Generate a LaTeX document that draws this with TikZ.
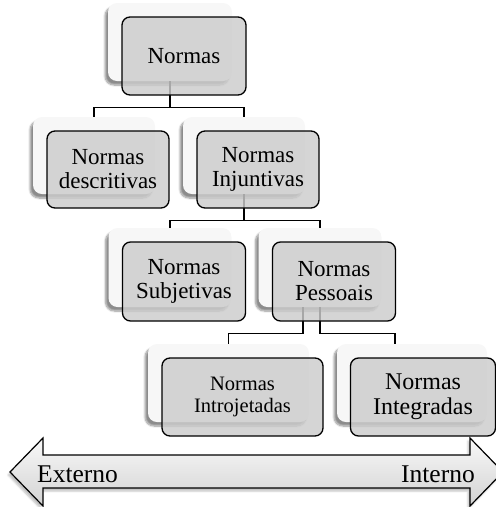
\documentclass[tikz,border=0pt]{standalone}
\usepackage{fontspec}
\setmainfont{Liberation Serif}
\usetikzlibrary{shadows.blur}
\definecolor{boxgray}{RGB}{204,204,204}
\begin{document}
\begin{tikzpicture}[x=1pt,y=-1pt,
  backbox/.style={rectangle, rounded corners=9pt, fill=gray!6, draw=none,
    blur shadow={shadow xshift=-3pt, shadow yshift=-4pt, shadow opacity=45, shadow blur steps=8},
    inner sep=0pt},
  frontbox/.style={rectangle, rounded corners=8pt, draw=black, line width=1.3pt,
    fill=boxgray, fill opacity=0.82, text opacity=1, align=center, inner sep=2pt,
    font=\fontsize{23}{24}\selectfont},
  link/.style={draw=black, line width=1.3pt},
  arrowtext/.style={font=\fontsize{25.5}{26}\selectfont, inner sep=0pt}
]
\useasboundingbox (0,0) rectangle (496,507);

% background cards of the hierarchy
\node[backbox, minimum width=124pt, minimum height=78pt] (nb) at (170,42) {};
\node[backbox, minimum width=122pt, minimum height=77pt] (db) at (94,155.5) {};
\node[backbox, minimum width=122pt, minimum height=77pt] (ib) at (244,155.5) {};
\node[backbox, minimum width=123pt, minimum height=79pt] (sb) at (170,267.5) {};
\node[backbox, minimum width=123pt, minimum height=79pt] (pb) at (320,267.5) {};
\node[backbox, minimum width=161pt, minimum height=78pt] (tb) at (228.5,383) {};
\node[backbox, minimum width=150pt, minimum height=78pt] (gb) at (412,383) {};

% tree connectors
\draw[link] (nb.south) -- ++(0,26) coordinate (j1);
\draw[link] (db.north) |- (j1) -| (ib.north);
\draw[link] (ib.south) -- ++(0,26) coordinate (j2);
\draw[link] (sb.north) |- (j2) -| (pb.north);
\draw[link] ([xshift=-17pt]pb.south) -- ++(0,26) -| (tb.north);
\draw[link] (pb.south) -- ++(0,26) -| ([xshift=-17pt]gb.north);

% front cards
\node[frontbox, minimum width=124pt, minimum height=78pt] (nf) at (184,56) {Normas};
\node[frontbox, minimum width=122pt, minimum height=77pt] (df) at (108,169.5) {Normas\\descritivas};
\node[frontbox, minimum width=122pt, minimum height=77pt] (jf) at (258,169.5) {Normas\\Injuntivas};
\node[frontbox, minimum width=123pt, minimum height=79pt] (sf) at (184,281.5) {Normas\\Subjetivas};
\node[frontbox, minimum width=123pt, minimum height=79pt] (pf) at (334,281.5) {Normas\\Pessoais};
\node[frontbox, minimum width=161pt, minimum height=78pt, font=\fontsize{20.5}{22}\selectfont] (tf) at (242.5,397) {Normas\\Introjetadas};
\node[frontbox, minimum width=145pt, minimum height=78pt, font=\fontsize{24}{25}\selectfont] (gf) at (423,397) {Normas\\Integradas};

% double-headed scale arrow
\draw[line width=1.2pt, top color=gray!5, bottom color=gray!35,
      blur shadow={shadow xshift=-2pt, shadow yshift=-3pt, shadow opacity=25}]
  (10,472) -- (43,438) -- (43,455) -- (470,455) -- (470,438) -- (503,472)
  -- (470,506) -- (470,488) -- (43,488) -- (43,506) -- cycle;
\node[arrowtext, anchor=base west] (ext) at (37,482) {Externo};
\node[arrowtext, anchor=base east] (int) at (475,482) {Interno};
\end{tikzpicture}
\end{document}
